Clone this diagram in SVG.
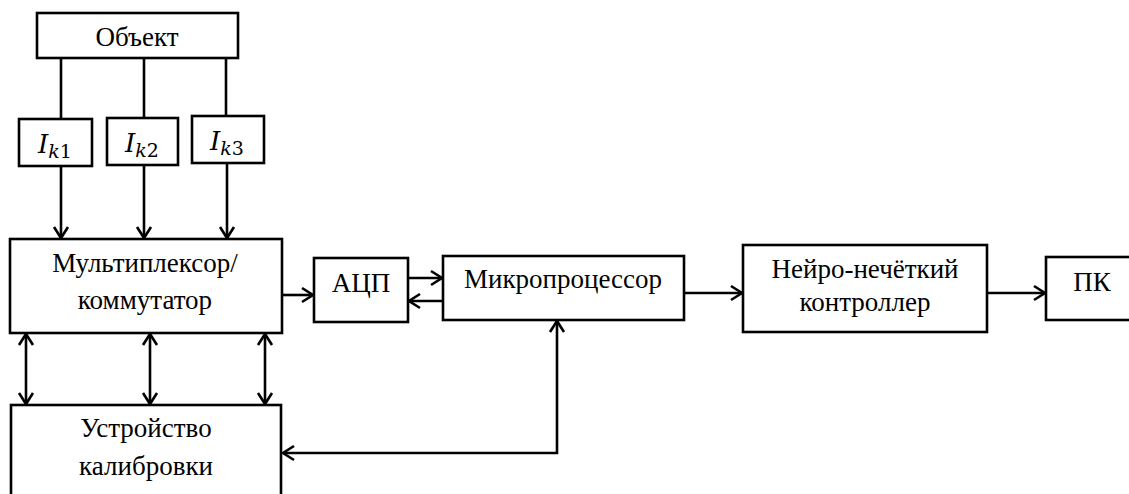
<svg xmlns="http://www.w3.org/2000/svg" width="1129" height="494" viewBox="0 0 1129 494">
<style>
.box{fill:#fff;stroke:#000;stroke-width:2.6}
.t{font-family:"Liberation Serif","Times New Roman",serif;font-size:27px;fill:#000;text-anchor:middle}
.m{font-family:"DejaVu Serif","Liberation Serif",serif;fill:#000}
.c{fill:none;stroke:#000;stroke-width:2.6}
</style>
<defs>
<marker id="ah" markerUnits="userSpaceOnUse" markerWidth="16" markerHeight="18" refX="12" refY="8" orient="auto-start-reverse" viewBox="0 0 16 16">
<path d="M1,1 L12,8 L1,15" fill="none" stroke="#000" stroke-width="2.6"/>
</marker>
</defs>
<rect width="1129" height="494" fill="#fff"/>
<g id="connectors">
<line class="c" x1="61" y1="58" x2="61" y2="119"/>
<line class="c" x1="144" y1="58" x2="144" y2="118"/>
<line class="c" x1="226" y1="58" x2="226" y2="116"/>
<line class="c" x1="61" y1="166" x2="61" y2="238" marker-end="url(#ah)"/>
<line class="c" x1="144" y1="165" x2="144" y2="238" marker-end="url(#ah)"/>
<line class="c" x1="227" y1="163" x2="227" y2="238" marker-end="url(#ah)"/>
<line class="c" x1="26" y1="334" x2="26" y2="404" marker-start="url(#ah)" marker-end="url(#ah)"/>
<line class="c" x1="150" y1="334" x2="150" y2="404" marker-start="url(#ah)" marker-end="url(#ah)"/>
<line class="c" x1="265" y1="334" x2="265" y2="404" marker-start="url(#ah)" marker-end="url(#ah)"/>
<line class="c" x1="282" y1="295" x2="313" y2="295" marker-end="url(#ah)"/>
<line class="c" x1="408" y1="278" x2="442" y2="278" marker-end="url(#ah)"/>
<line class="c" x1="443" y1="301" x2="409" y2="301" marker-end="url(#ah)"/>
<line class="c" x1="684" y1="293" x2="742" y2="293" marker-end="url(#ah)"/>
<line class="c" x1="987" y1="293" x2="1045" y2="293" marker-end="url(#ah)"/>
<polyline class="c" points="283,453 557,453 557,321" marker-start="url(#ah)" marker-end="url(#ah)"/>
</g>
<g id="obj">
<rect class="box" x="37" y="13" width="201" height="45"/>
<text class="t" x="137" y="46">Объект</text>
</g>
<g id="ik1">
<rect class="box" x="19" y="119" width="73" height="47"/>
<text class="m" x="38" y="153"><tspan font-style="italic" font-size="26">I</tspan><tspan font-style="italic" font-size="19" dy="5">k</tspan><tspan font-size="19">1</tspan></text>
</g>
<g id="ik2">
<rect class="box" x="107" y="118" width="71" height="47"/>
<text class="m" x="125" y="152"><tspan font-style="italic" font-size="26">I</tspan><tspan font-style="italic" font-size="19" dy="5">k</tspan><tspan font-size="19">2</tspan></text>
</g>
<g id="ik3">
<rect class="box" x="192" y="116" width="72" height="47"/>
<text class="m" x="210" y="150"><tspan font-style="italic" font-size="26">I</tspan><tspan font-style="italic" font-size="19" dy="5">k</tspan><tspan font-size="19">3</tspan></text>
</g>
<g id="mux">
<rect class="box" x="10" y="239" width="272" height="94"/>
<text class="t" x="145" y="272">Мультиплексор/</text>
<text class="t" x="145" y="309">коммутатор</text>
</g>
<g id="adc">
<rect class="box" x="314" y="258" width="94" height="64"/>
<text class="t" x="361" y="292">АЦП</text>
</g>
<g id="mcu">
<rect class="box" x="443" y="256" width="241" height="64"/>
<text class="t" x="563" y="288">Микропроцессор</text>
</g>
<g id="nfc">
<rect class="box" x="743" y="245" width="244" height="87"/>
<text class="t" x="865" y="278">Нейро-нечёткий</text>
<text class="t" x="865" y="311">контроллер</text>
</g>
<g id="pc">
<rect class="box" x="1046" y="257" width="100" height="63"/>
<text class="t" x="1092" y="291">ПК</text>
</g>
<g id="calib">
<rect class="box" x="11" y="405" width="270" height="110"/>
<text class="t" x="146" y="437">Устройство</text>
<text class="t" x="146" y="475">калибровки</text>
</g>
</svg>
